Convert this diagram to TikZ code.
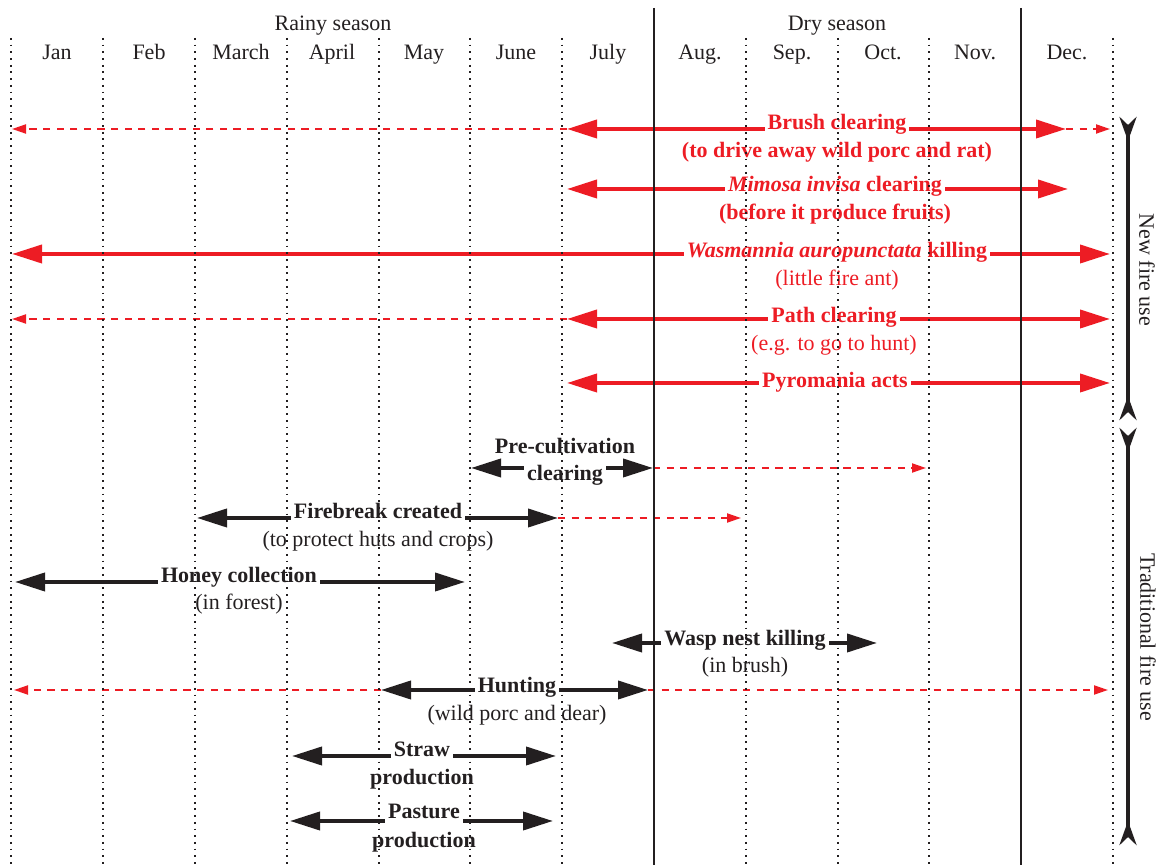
\documentclass[tikz,border=0pt]{standalone}
\usepackage{fontspec}
\setmainfont{Liberation Serif}
\usetikzlibrary{arrows.meta,positioning}
\definecolor{firered}{RGB}{237,28,36}
\definecolor{ink}{RGB}{35,31,32}

\begin{document}
\begin{tikzpicture}[x=0.5pt, y=-0.5pt, ink, font=\fontsize{11}{13.5}\selectfont,
    bigtip/.tip={Triangle[length=15pt,width=9pt]},
    smalltip/.tip={Triangle[length=7pt,width=4.5pt]},
    bartip/.tip={Stealth[reversed,length=12pt,width=8.5pt,inset=4pt]},
    newuse/.style={firered, line width=1.9pt, bigtip-bigtip},
    olduse/.style={ink, line width=1.9pt, bigtip-bigtip},
    lateuse/.style={firered, line width=1pt, dash pattern=on 3.6pt off 3.2pt, -smalltip},
    act/.style={fill=white, inner xsep=1.5pt, inner ysep=0.5pt, text height=7.5pt, text depth=2pt, font=\fontsize{11}{13.5}\selectfont\bfseries},
    note/.style={inner sep=0pt, text height=7.5pt, text depth=2pt},
    month/.style={anchor=base},
    divider/.style={ink, line width=0.9pt, dash pattern=on 0.9pt off 2.45pt},
    season/.style={ink, line width=1pt},
    span/.style={ink, line width=2.2pt, bartip-bartip}]
    \useasboundingbox (0,0) rectangle (1163,865);

    % seasons and months
    \node [month] (rainy) at (333,31) {Rainy season};
    \node [month] (dry) at (837,31) {Dry season};
    \node [month] (jan) at (57,60) {Jan};
    \node [month] (feb) at (149,60) {Feb};
    \node [month] (mar) at (241,60) {March};
    \node [month] (apr) at (332,60) {April};
    \node [month] (may) at (424,60) {May};
    \node [month] (jun) at (516,60) {June};
    \node [month] (jul) at (608,60) {July};
    \node [month] (aug) at (700,60) {Aug.};
    \node [month] (sep) at (792,60) {Sep.};
    \node [month] (oct) at (883,60) {Oct.};
    \node [month] (nov) at (975,60) {Nov.};
    \node [month] (dec) at (1067,60) {Dec.};

    % new fire use
    \coordinate (brushA) at (12,129);
    \coordinate (brushB) at (567,129);
    \coordinate (brushC) at (1066,129);
    \coordinate (brushD) at (1110,129);
    \draw [lateuse] (brushB) -- (brushA);
    \draw [newuse] (brushB) -- (brushC);
    \draw [lateuse] (brushC) -- (brushD);
    \node [act, text=firered] (brush) at (837,124) {Brush clearing};
    \node [note, text=firered, font=\fontsize{11}{13.5}\selectfont\bfseries, below=3.5pt of brush] (brushwhy) {(to drive away wild porc and rat)};

    \coordinate (mimA) at (567,189);
    \coordinate (mimB) at (1068,189);
    \draw [newuse] (mimA) -- (mimB);
    \node [act, text=firered] (mimosa) at (835,186) {\textit{Mimosa invisa} clearing};
    \node [note, text=firered, font=\fontsize{11}{13.5}\selectfont\bfseries, below=3.5pt of mimosa] (mimosawhy) {(before it produce fruits)};

    \coordinate (antA) at (12,254);
    \coordinate (antB) at (1110,254);
    \draw [newuse] (antA) -- (antB);
    \node [act, text=firered] (ant) at (837,252) {\textit{Wasmannia auropunctata} killing};
    \node [note, text=firered, below=3.5pt of ant] (antwhy) {(little fire ant)};

    \coordinate (pathA) at (12,319);
    \coordinate (pathB) at (567,319);
    \coordinate (pathC) at (1110,319);
    \draw [lateuse] (pathB) -- (pathA);
    \draw [newuse] (pathB) -- (pathC);
    \node [act, text=firered] (path) at (834,317) {Path clearing};
    \node [note, text=firered, below=3.5pt of path] (pathwhy) {(e.g. to go to hunt)};

    \coordinate (pyroA) at (567,383);
    \coordinate (pyroB) at (1110,383);
    \draw [newuse] (pyroA) -- (pyroB);
    \node [act, text=firered] (pyro) at (835,382) {Pyromania acts};

    % traditional fire use
    \coordinate (cultA) at (471,468);
    \coordinate (cultB) at (653,468);
    \coordinate (cultC) at (926,468);
    \draw [olduse] (cultA) -- (cultB);
    \draw [lateuse] (cultB) -- (cultC);
    \node [act] (cult) at (565,475) {clearing};
    \node [note, font=\fontsize{11}{13.5}\selectfont\bfseries, above=3pt of cult] (cultname) {Pre-cultivation};

    \coordinate (breakA) at (197,518);
    \coordinate (breakB) at (558,518);
    \coordinate (breakC) at (741,518);
    \draw [olduse] (breakA) -- (breakB);
    \draw [lateuse] (breakB) -- (breakC);
    \node [act] (firebreak) at (378,513) {Firebreak created};
    \node [note, below=3.5pt of firebreak] (firebreakwhy) {(to protect huts and crops)};

    \coordinate (honeyA) at (15,582);
    \coordinate (honeyB) at (465,582);
    \draw [olduse] (honeyA) -- (honeyB);
    \node [act] (honey) at (239,577) {Honey collection};
    \node [note, below=3pt of honey] (honeywhy) {(in forest)};

    \coordinate (waspA) at (612,643);
    \coordinate (waspB) at (877,643);
    \draw [olduse] (waspA) -- (waspB);
    \node [act] (wasp) at (745,640) {Wasp nest killing};
    \node [note, below=3pt of wasp] (waspwhy) {(in brush)};

    \coordinate (huntA) at (14,690);
    \coordinate (huntB) at (381,690);
    \coordinate (huntC) at (648,690);
    \coordinate (huntD) at (1108,690);
    \draw [lateuse] (huntB) -- (huntA);
    \draw [olduse] (huntB) -- (huntC);
    \draw [lateuse] (huntC) -- (huntD);
    \node [act] (hunt) at (517,687) {Hunting};
    \node [note, below=3.5pt of hunt] (huntwhy) {(wild porc and dear)};

    \coordinate (strawA) at (292,756);
    \coordinate (strawB) at (556,756);
    \draw [olduse] (strawA) -- (strawB);
    \node [act] (straw) at (422,751) {Straw};
    \node [note, font=\fontsize{11}{13.5}\selectfont\bfseries, below=3.5pt of straw] (strawprod) {production};

    \coordinate (pastA) at (290,821);
    \coordinate (pastB) at (553,821);
    \draw [olduse] (pastA) -- (pastB);
    \node [act] (pasture) at (424,813) {Pasture};
    \node [note, font=\fontsize{11}{13.5}\selectfont\bfseries, below=4pt of pasture] (pastprod) {production};

    % month and season dividers
    \draw [divider] (11,38) -- (11,865);
    \draw [divider] (103,38) -- (103,865);
    \draw [divider] (195,38) -- (195,865);
    \draw [divider] (287,38) -- (287,865);
    \draw [divider] (379,38) -- (379,865);
    \draw [divider] (470,38) -- (470,865);
    \draw [divider] (562,38) -- (562,865);
    \draw [season] (654,8) -- (654,865);
    \draw [divider] (746,38) -- (746,865);
    \draw [divider] (838,38) -- (838,865);
    \draw [divider] (929,38) -- (929,865);
    \draw [season] (1021,8) -- (1021,865);
    \draw [divider] (1113,38) -- (1113,865);

    % kinds of fire use
    \coordinate (newtop) at (1128,117);
    \coordinate (newbot) at (1128,420);
    \coordinate (tradtop) at (1128,428);
    \coordinate (tradbot) at (1128,845);
    \draw [span] (newtop) -- (newbot);
    \draw [span] (tradtop) -- (tradbot);
    \node [rotate=-90] (newfire) at (1147,270) {New fire use};
    \node [rotate=-90] (tradfire) at (1148,637) {Traditional fire use};
\end{tikzpicture}
\end{document}
